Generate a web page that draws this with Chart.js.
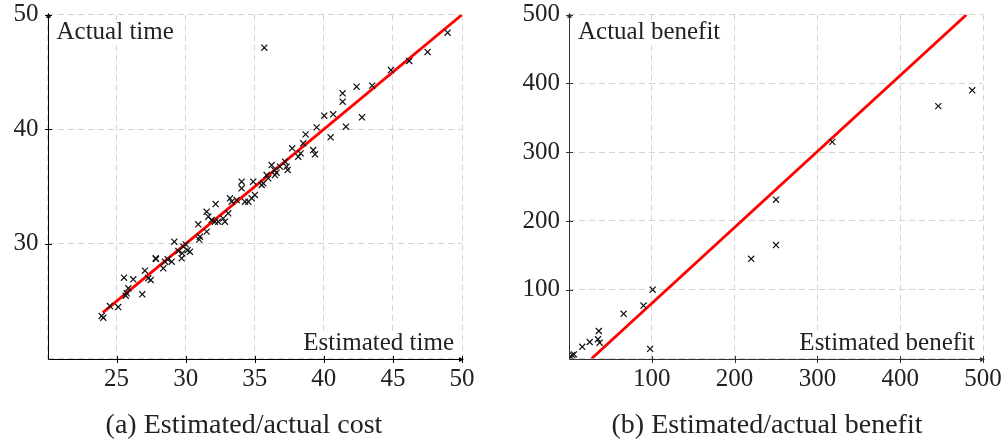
<!DOCTYPE html>
<html>
<head>
<meta charset="utf-8">
<script src="https://cdn.jsdelivr.net/npm/chart.js@4.4.0/dist/chart.umd.min.js"></script>
<style>
  html, body { margin: 0; padding: 0; background: #fff; }
  #wrap { position: relative; width: 1008px; height: 443px; font-family: "Liberation Serif", serif; color: #222; }
  canvas { position: absolute; top: 0; }
  #costChart { left: 0; }
  #benefitChart { left: 504px; }
  .caption { position: absolute; top: 408px; font-size: 28px; white-space: nowrap; transform: translateX(-50%); }
</style>
</head>
<body>
<div id="wrap">
  <canvas id="costChart" width="504" height="443"></canvas>
  <canvas id="benefitChart" width="504" height="443"></canvas>
  <div class="caption" style="left:244px">(a) Estimated/actual cost</div>
  <div class="caption" style="left:767px">(b) Estimated/actual benefit</div>
</div>
<script>
// estimated vs actual time per task
const estTime = [23.92, 24.04, 24.52, 25.12, 25.54, 26.21, 25.85, 25.73, 25.66, 26.86,
  27.05, 27.29, 27.47, 27.83, 27.85, 28.38, 28.5, 28.7, 28.99, 29.18,
  29.47, 29.71, 29.83, 30.0, 30.31, 30.98, 29.75, 30.14, 30.91, 31.03,
  31.52, 31.52, 31.64, 31.88, 32.17, 32.12, 32.36, 32.84, 32.72, 33.08,
  33.21, 33.33, 33.69, 34.05, 34.05, 34.29, 34.53, 34.78, 34.89, 35.01,
  35.62, 35.5, 35.86, 36.22, 36.41, 36.58, 36.46, 36.82, 37.19, 37.31,
  37.38, 37.71, 38.15, 38.32, 38.51, 38.68, 39.23, 39.36, 39.48, 40.49,
  35.98, 40.03, 40.68, 41.36, 41.36, 41.6, 42.37, 42.76, 43.5, 44.86,
  46.18, 47.51, 48.96, 35.69];
const actTime = [23.71, 23.56, 24.58, 24.49, 27.05, 26.91, 26.13, 25.69, 25.48, 25.6,
  27.66, 27.0, 26.85, 28.74, 28.68, 27.87, 28.45, 28.66, 28.45, 30.19,
  29.38, 28.74, 29.76, 29.96, 29.32, 30.37, 29.18, 29.45, 31.71, 30.63,
  32.81, 31.07, 32.37, 32.08, 33.48, 31.94, 31.94, 31.94, 32.23, 32.67,
  33.98, 33.68, 33.83, 35.43, 34.85, 33.68, 33.68, 33.98, 35.43, 34.27,
  35.29, 35.14, 36.01, 36.88, 36.45, 36.21, 36.01, 36.74, 37.17, 36.74,
  36.45, 38.34, 37.61, 37.9, 38.78, 39.56, 38.19, 37.82, 40.17, 39.3,
  35.72, 41.19, 41.31, 42.41, 43.14, 40.23, 43.72, 41.05, 43.81, 45.17,
  45.96, 46.75, 48.43, 47.12];
const timeLineX = [24, 50];
const timeLineY = [24, 50];

// estimated vs actual benefit
const estBenefit = [0.5, 2, 4, 6, 16, 25, 35, 37, 36, 66, 90, 101, 98, 220, 250, 250, 318, 446, 487];
const actBenefit = [1, 3, 5, 6, 17, 24, 28, 23, 40, 65, 77, 100, 14, 145, 231, 165, 315, 367, 390];
const benefitLineX = [27.4, 480];
const benefitLineY = [0, 500];

const timeTicksX = [20, 50, 5];
const timeTicksY = [20, 50, 10];
const benefitTicks = [0, 500, 100];

const FONT = '"Liberation Serif", serif';
const toPoints = (xs, ys) => xs.map((x, i) => ({ x, y: ys[i] }));

// axis lines with arrow heads, crossing tick marks and the two axis titles
const axesPlugin = {
  id: 'axes',
  afterDatasetsDraw(chart, args, o) {
    const { ctx, chartArea: a, scales } = chart;
    ctx.save();
    ctx.font = '25px ' + FONT;
    ctx.textBaseline = 'alphabetic';
    const label = (txt, x, y, align) => {
      const w = ctx.measureText(txt).width;
      const left = align === 'right' ? x - w : x;
      ctx.fillStyle = '#fff';
      ctx.fillRect(left - 2, y - 19, w + 4, 25);
      ctx.fillStyle = '#222';
      ctx.textAlign = align;
      ctx.fillText(txt, x, y);
    };
    label(o.yTitle, a.left + 9, 39, 'left');
    label(o.xTitle, a.right - 8, 350, 'right');

    ctx.strokeStyle = o.axisColor;
    ctx.fillStyle = o.axisColor;
    ctx.lineWidth = 1;
    const x0 = Math.round(a.left) + 0.5, y0 = Math.round(a.bottom) + 0.5;
    ctx.beginPath();
    ctx.moveTo(x0, y0); ctx.lineTo(x0, a.top - 1);
    ctx.moveTo(x0, y0); ctx.lineTo(a.right + 1, y0);
    // tick marks across the axes
    scales.x.ticks.forEach(t => {
      if (t.value === scales.x.min) return;
      const px = Math.round(scales.x.getPixelForValue(t.value)) + 0.5;
      ctx.moveTo(px, y0 - 3.5); ctx.lineTo(px, y0 + 3.5);
    });
    scales.y.ticks.forEach(t => {
      if (t.value === scales.y.min) return;
      const py = Math.round(scales.y.getPixelForValue(t.value)) + 0.5;
      ctx.moveTo(x0 - 3.5, py); ctx.lineTo(x0 + 3.5, py);
    });
    ctx.stroke();
    // arrow heads
    ctx.beginPath();
    ctx.moveTo(x0, a.top - 2); ctx.lineTo(x0 - 2.5, a.top + 3); ctx.lineTo(x0 + 2.5, a.top + 3); ctx.closePath();
    ctx.moveTo(a.right + 2, y0); ctx.lineTo(a.right - 3, y0 - 2.5); ctx.lineTo(a.right - 3, y0 + 2.5); ctx.closePath();
    ctx.fill();
    ctx.restore();
  }
};

function makeScale(range, padLeft, isY) {
  const [min, max, step] = range;
  return {
    type: 'linear',
    min, max,
    ticks: {
      stepSize: step,
      color: '#222',
      // small line height keeps the top label from pushing the plot down
      font: { family: FONT, size: 25, lineHeight: isY ? 0.4 : 1.2 },
      padding: isY ? 9 : 6,
      maxRotation: 0,
      callback: v => (v === min ? '' : v)
    },
    grid: { color: '#d4d4d4', lineWidth: 1, drawTicks: false, borderDash: [6, 4] },
    border: { display: false, dash: [6, 4] },
    afterFit(s) {
      if (isY) s.width = padLeft; else s.height = 84.5;
    }
  };
}

function makeChart(id, pts, line, xr, yr, leftW, rightPad, titles) {
  new Chart(document.getElementById(id), {
    type: 'scatter',
    data: {
      datasets: [
        {
          data: pts,
          pointStyle: 'crossRot',
          pointRadius: 4.3,
          pointBorderWidth: 1.2,
          borderColor: '#111',
          backgroundColor: '#111'
        },
        {
          data: line,
          showLine: true,
          pointRadius: 0,
          borderColor: '#ff0000',
          borderWidth: 2.8
        }
      ]
    },
    options: {
      responsive: false,
      animation: false,
      layout: { padding: { left: 0, right: rightPad, top: 14.7, bottom: 0 } },
      plugins: { legend: { display: false }, tooltip: { enabled: false }, axes: titles },
      scales: { x: makeScale(xr, leftW, false), y: makeScale(yr, leftW, true) }
    },
    plugins: [axesPlugin]
  });
}

makeChart('costChart', toPoints(estTime, actTime), toPoints(timeLineX, timeLineY),
  timeTicksX, timeTicksY, 47.5, 42,
  { xTitle: 'Estimated time', yTitle: 'Actual time', axisColor: '#000' });
makeChart('benefitChart', toPoints(estBenefit, actBenefit), toPoints(benefitLineX, benefitLineY),
  benefitTicks, benefitTicks, 65, 25,
  { xTitle: 'Estimated benefit', yTitle: 'Actual benefit', axisColor: '#333' });
</script>
</body>
</html>
